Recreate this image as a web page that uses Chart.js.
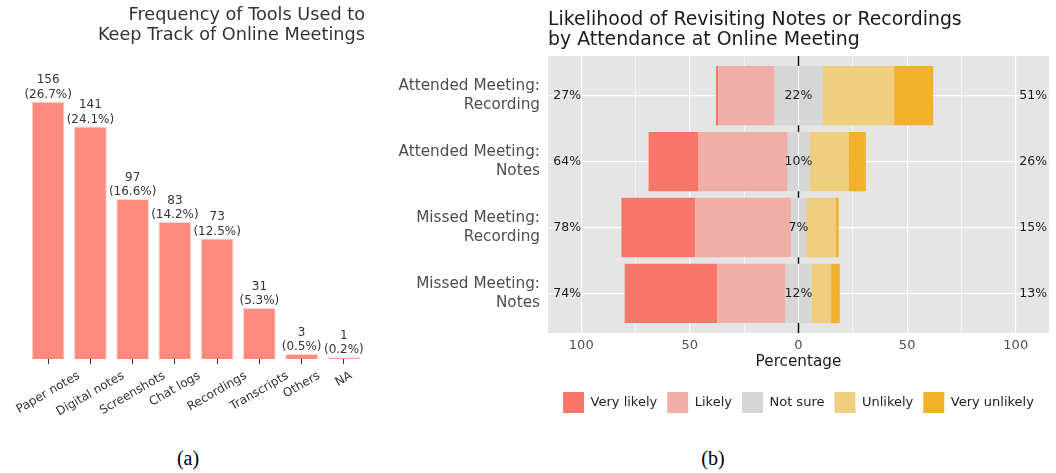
<!DOCTYPE html>
<html lang="en">
<head>
<meta charset="UTF-8">
<title>Online meeting tools and revisiting</title>
<script src="https://cdn.jsdelivr.net/npm/chart.js"></script>
<style>
  body { margin: 0; background: #fff; width: 1056px; height: 473px; position: relative; overflow: hidden; }
  #toolsWrap { position: absolute; left: 0; top: 0; width: 380px; height: 430px; }
  #likertWrap { position: absolute; left: 380px; top: 0; width: 676px; height: 423px; }
  .caption { position: absolute; top: 446px; line-height: 24px; font-family: 'Liberation Serif', serif; font-size: 20px; color: #000; transform: translateX(-50%); }
</style>
</head>
<body>
<div id="toolsWrap"><canvas id="toolsChart"></canvas></div>
<div id="likertWrap"><canvas id="likertChart"></canvas></div>
<div class="caption" style="left:188px">(a)</div>
<div class="caption" style="left:713px">(b)</div>

<script>
// (a) tools used to keep track of meetings
const tools = ['Paper notes', 'Digital notes', 'Screenshots', 'Chat logs', 'Recordings', 'Transcripts', 'Others', 'NA'];
const toolCounts = [156, 141, 97, 83, 73, 31, 3, 1];
const toolShares = ['(26.7%)', '(24.1%)', '(16.6%)', '(14.2%)', '(12.5%)', '(5.3%)', '(0.5%)', '(0.2%)'];

// (b) likert answers, percent of respondents
const groups = [['Attended Meeting:', 'Recording'], ['Attended Meeting:', 'Notes'], ['Missed Meeting:', 'Recording'], ['Missed Meeting:', 'Notes']];
const veryLikely = [1, 23, 34, 42.5];
const likely = [26, 41, 44, 31.5];
const notSure = [22, 10, 7, 12];
const unlikely = [33, 18, 13.5, 9];
const veryUnlikely = [18, 8, 1.5, 4];
const leftPct = ['27%', '64%', '78%', '74%'];
const midPct = ['22%', '10%', '7%', '12%'];
const rightPct = ['51%', '26%', '15%', '13%'];
const xTickValues = [-100, -75, -50, -25, 0, 25, 50, 75, 100];
const legendOrder = ['Very likely', 'Likely', 'Not sure', 'Unlikely', 'Very unlikely'];

const FONT = 'DejaVu Sans';

const toolLabels = {
    id: 'toolLabels',
    afterDatasetsDraw(chart) {
        const ctx = chart.ctx;
        const area = chart.chartArea;
        const meta = chart.getDatasetMeta(0);
        ctx.save();
        ctx.fillStyle = '#333';
        ctx.font = '12px "' + FONT + '"';
        ctx.textAlign = 'center';
        ctx.textBaseline = 'middle';
        meta.data.forEach((bar, i) => {
            ctx.fillText(String(toolCounts[i]), bar.x, bar.y - 21.5);
            ctx.fillText(toolShares[i], bar.x, bar.y - 7);
        });
        // rotated names centred under the tick, matplotlib style
        const xs = chart.scales.x;
        tools.forEach((t, i) => {
            const w = ctx.measureText(t).width;
            const x = xs.getPixelForTick(i);
            const y = area.bottom + 10 + (w * 0.5 + 12) / 2;
            ctx.save();
            ctx.translate(x, y);
            ctx.rotate(-Math.PI / 6);
            ctx.fillText(t, 0, 0);
            ctx.restore();
        });
        ctx.restore();
    }
};

new Chart(document.getElementById('toolsChart'), {
    type: 'bar',
    data: {
        labels: tools,
        datasets: [{
            data: toolCounts,
            backgroundColor: '#FF8A7E',
            borderColor: '#FFD9D4',
            borderWidth: 1,
            barPercentage: 0.8,
            categoryPercentage: 0.97
        }]
    },
    options: {
        responsive: true,
        maintainAspectRatio: false,
        animation: false,
        layout: { padding: { top: 5, left: 27, right: 15, bottom: 0 } },
        plugins: {
            legend: { display: false },
            tooltip: { enabled: false },
            title: {
                display: true,
                text: ['Frequency of Tools Used to', 'Keep Track of Online Meetings'],
                align: 'end',
                fullSize: false,
                color: '#333',
                font: { family: FONT, size: 17.7, weight: 'normal', lineHeight: 1.13 },
                padding: { top: 0, bottom: 25.4 }
            }
        },
        scales: {
            x: {
                grid: { display: true, drawOnChartArea: false, drawTicks: true, tickLength: 5, offset: false, color: '#333' },
                border: { display: false },
                ticks: { display: false },
                afterFit(s) { s.height = 71; }
            },
            y: { display: false, min: 0, max: 175 }
        }
    },
    plugins: [toolLabels]
});

// (b) diverging stacked bars
const likertDeco = {
    id: 'likertDeco',
    beforeDraw(chart) {
        const {ctx, chartArea: a} = chart;
        ctx.save();
        ctx.fillStyle = '#E5E5E5';
        ctx.fillRect(a.left, a.top, a.width, a.height);
        ctx.restore();
    },
    afterDatasetsDraw(chart) {
        const {ctx, chartArea: a} = chart;
        const xs = chart.scales.x, ys = chart.scales.y;
        // zero line, only where no bar covers it
        const x0 = xs.getPixelForValue(0);
        const bars = chart.getDatasetMeta(0).data;
        let y = a.top;
        ctx.save();
        ctx.strokeStyle = '#000';
        ctx.lineWidth = 1.4;
        ctx.beginPath();
        bars.forEach(b => {
            const top = b.y - b.height / 2;
            ctx.moveTo(x0, y);
            ctx.lineTo(x0, top);
            y = b.y + b.height / 2;
        });
        ctx.moveTo(x0, y);
        ctx.lineTo(x0, a.bottom);
        ctx.stroke();

        ctx.fillStyle = '#1a1a1a';
        ctx.font = '12.5px "' + FONT + '"';
        ctx.textAlign = 'center';
        ctx.textBaseline = 'middle';
        groups.forEach((g, i) => {
            const yy = ys.getPixelForValue(i);
            ctx.fillText(leftPct[i], xs.getPixelForValue(-106.5), yy);
            ctx.fillText(midPct[i], xs.getPixelForValue(0), yy);
            ctx.fillText(rightPct[i], xs.getPixelForValue(108), yy);
        });
        ctx.restore();
    }
};

const bar = { stack: 'likert', barPercentage: 0.9, categoryPercentage: 1, borderWidth: 0 };

new Chart(document.getElementById('likertChart'), {
    type: 'bar',
    data: {
        labels: groups,
        datasets: [
            Object.assign({ label: 'Not sure', data: notSure.map(v => -v / 2), backgroundColor: '#D6D6D6' }, bar),
            Object.assign({ label: 'Likely', data: likely.map(v => -v), backgroundColor: '#F1AEA7' }, bar),
            Object.assign({ label: 'Very likely', data: veryLikely.map(v => -v), backgroundColor: '#F9766B' }, bar),
            Object.assign({ label: 'Not sure', data: notSure.map(v => v / 2), backgroundColor: '#D6D6D6', skipLegend: true }, bar),
            Object.assign({ label: 'Unlikely', data: unlikely, backgroundColor: '#EFCF7F' }, bar),
            Object.assign({ label: 'Very unlikely', data: veryUnlikely, backgroundColor: '#F2B12A' }, bar)
        ]
    },
    options: {
        indexAxis: 'y',
        responsive: true,
        maintainAspectRatio: false,
        animation: false,
        layout: { padding: { top: 10, left: 0, right: 7, bottom: 0 } },
        plugins: {
            tooltip: { enabled: false },
            title: {
                display: true,
                text: ['Likelihood of Revisiting Notes or Recordings', 'by Attendance at Online Meeting'],
                align: 'start',
                fullSize: false,
                color: '#1a1a1a',
                font: { family: FONT, size: 18.9, weight: 'normal', lineHeight: 1.06 },
                padding: { top: 0, bottom: 6 }
            },
            legend: {
                position: 'bottom',
                fullSize: false,
                labels: {
                    boxWidth: 21,
                    boxHeight: 21,
                    padding: 10,
                    color: '#222',
                    font: { family: FONT, size: 13 },
                    filter: (item, data) => !data.datasets[item.datasetIndex].skipLegend,
                    sort: (a, b) => legendOrder.indexOf(a.text) - legendOrder.indexOf(b.text)
                }
            }
        },
        scales: {
            x: {
                stacked: true,
                min: -115.3,
                max: 115.3,
                afterBuildTicks(s) { s.ticks = xTickValues.map(v => ({ value: v })); },
                grid: {
                    color: '#fff',
                    lineWidth: c => (c.tick && c.tick.value % 50 === 0) ? 1.2 : 0.6,
                    drawTicks: false
                },
                border: { display: false },
                ticks: {
                    color: '#4D4D4D',
                    font: { family: FONT, size: 13 },
                    padding: 5,
                    autoSkip: false,
                    maxRotation: 0,
                    callback: v => (v % 50 === 0 ? String(Math.abs(v)) : '')
                },
                title: {
                    display: true,
                    text: 'Percentage',
                    color: '#1a1a1a',
                    font: { family: FONT, size: 15.25 },
                    padding: { top: 0, bottom: 10.5 }
                },
                afterFit(s) { s.height = 49; }
            },
            y: {
                stacked: true,
                grid: { color: '#fff', lineWidth: 1.2, offset: false, drawTicks: false },
                border: { display: false },
                ticks: { color: '#4D4D4D', font: { family: FONT, size: 15.25, lineHeight: 1.2 }, padding: 8 },
                // ggplot style discrete expansion: 0.6 of a slot at each end
                afterBuildTicks(s) { s._startValue = -0.6; s._valueRange = 4.2; },
                afterFit(s) { s.width = 168; }
            }
        }
    },
    plugins: [likertDeco]
});
</script>
</body>
</html>
